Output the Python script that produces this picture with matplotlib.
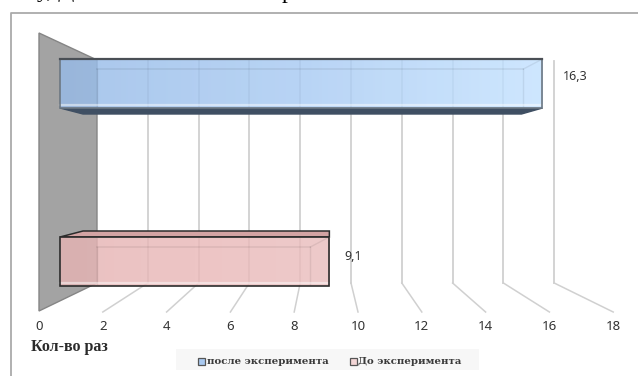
import matplotlib
matplotlib.use("Agg")
import matplotlib.pyplot as plt
from matplotlib.patches import Polygon, Rectangle
from matplotlib.colors import LinearSegmentedColormap
import numpy as np

SERIES = ["после эксперимента", "До эксперимента"]
VALUES = [16.3, 9.1]
VALUE_LABELS = ["16,3", "9,1"]
TICKS = [0, 2, 4, 6, 8, 10, 12, 14, 16, 18]
AXIS_TITLE = "Кол-во раз"

# geometry of the fake 3d box, in pixels
BACK_X0, BACK_K = 97, 25.4
FRONT_X0, FRONT_K = 39, 31.9
BAR_X0, BAR_K = 60, 29.6
BAR_BACK_X0, BAR_BACK_K = 83, 26.9

fig = plt.figure(figsize=(6.38, 3.76), dpi=100)
ax = fig.add_axes([0, 0, 1, 1])
ax.axis("off")

serif = "Liberation Serif"
wide_serif = "DejaVu Serif"

# Рамка
ax.plot([11, 11, 638], [376, 13, 13], color="#aaaaaa", lw=1.3, zorder=1)

# Обрезанная строка текста сверху
ax.text(37, -3, "у, Д", fontsize=17, family=serif, ha="left", va="baseline")
ax.text(282, -2, "р", fontsize=17, family=serif, ha="left", va="baseline")

# Стена слева
wall = Polygon([(39, 33), (97, 60), (97, 283), (39, 311)], closed=True,
               facecolor="#a3a3a3", edgecolor="#858585", lw=1, zorder=2)
ax.add_patch(wall)

# Сетка
for t in TICKS[1:]:
    xb = BACK_X0 + BACK_K * t
    xf = FRONT_X0 + FRONT_K * t
    ax.plot([xb, xb], [61, 283], color="#d0d0d0", lw=1.3, zorder=2)
    ax.plot([xb, xf], [283, 312], color="#d0d0d0", lw=1.1, zorder=2)

for t in TICKS:
    ax.text(FRONT_X0 + FRONT_K * t, 327, str(t), ha="center", va="center",
            fontsize=9.5, color="#333333", family="Noto Sans")

ax.text(31, 347, AXIS_TITLE, ha="left", va="center", fontsize=11.5, family=serif,
        weight="bold", color="#2b2b2b")

cmap_blue = LinearSegmentedColormap.from_list("b", ["#97bbe8", "#a9cbf3", "#c4e2ff"])
cmap_red = LinearSegmentedColormap.from_list("r", ["#e6b4b4", "#e9b9b9", "#ebbebe"])


def draw_bar(value, top, cmap, edge, dark_top):
    height = 49
    x0 = BAR_X0
    x1 = BAR_X0 + BAR_K * value
    xb0 = BAR_BACK_X0
    xb1 = BAR_BACK_X0 + BAR_BACK_K * value
    bottom = top + height
    if dark_top:
        ax.add_patch(Polygon([(x0, top), (xb0, top - 6), (x1, top - 6), (x1, top)],
                             facecolor="#d3a3a3", edgecolor=edge, lw=1.1, zorder=4))
    else:
        ax.add_patch(Polygon([(x0, bottom), (xb0, bottom + 6), (xb1, bottom + 6), (x1, bottom)],
                             facecolor="#3f4f63", edgecolor="#3f4f63", lw=1, zorder=4))
    grad = np.linspace(0, 1, 256).reshape(1, -1)
    ax.imshow(grad, extent=[x0, x1, bottom, top], cmap=cmap, aspect="auto",
              alpha=0.82, zorder=5)
    # внутренние линии объёма
    inner = "#00000012"
    ax.plot([BACK_X0, x1 - 19], [top + 10, top + 10], color=inner, lw=1.2, zorder=6)
    ax.plot([BACK_X0, BACK_X0], [top + 10, bottom - 2], color=inner, lw=1, zorder=6)
    ax.plot([x1 - 19, x1 - 19], [top + 10, bottom - 2], color=inner, lw=1, zorder=6)
    ax.plot([x1 - 19, x1], [top + 10, top], color=inner, lw=1, zorder=6)
    ax.plot([x0, x1], [bottom - 3, bottom - 3], color="#ffffff77", lw=1.6, zorder=6)
    ax.add_patch(Rectangle((x0, top), x1 - x0, height, fill=False, edgecolor=edge,
                           lw=1.2, zorder=7))
    return x1


x1 = draw_bar(VALUES[0], 59, cmap_blue, "#6c7782", False)
ax.plot([60, x1], [59, 59], color="#4a4f55", lw=1.6, zorder=8)
ax.text(x1 + 20, 77, VALUE_LABELS[0], fontsize=9, family="Noto Sans", color="#333333",
        ha="left", va="center", zorder=8)

x1 = draw_bar(VALUES[1], 237, cmap_red, "#2c2c2c", True)
ax.text(x1 + 15, 257, VALUE_LABELS[1], fontsize=9, family="Noto Sans", color="#333333",
        ha="left", va="center", zorder=8)

# Легенда
ax.add_patch(Rectangle((176, 349), 303, 21, facecolor="#f7f7f7", edgecolor="none", zorder=1))
ax.add_patch(Rectangle((198, 358), 7, 7, facecolor="#a9c9f0", edgecolor="#555555", lw=0.9, zorder=3))
ax.text(207, 361, SERIES[0], fontsize=7.3, family=wide_serif, weight="bold", color="#3a3a3a",
        ha="left", va="center", zorder=3)
ax.add_patch(Rectangle((350, 358), 7, 7, facecolor="#f3d6d6", edgecolor="#555555", lw=0.9, zorder=3))
ax.text(358, 361, SERIES[1], fontsize=7.3, family=wide_serif, weight="bold", color="#3a3a3a",
        ha="left", va="center", zorder=3)

ax.set_xlim(0, 638)
ax.set_ylim(376, 0)

fig.savefig("out.png", dpi=100)
